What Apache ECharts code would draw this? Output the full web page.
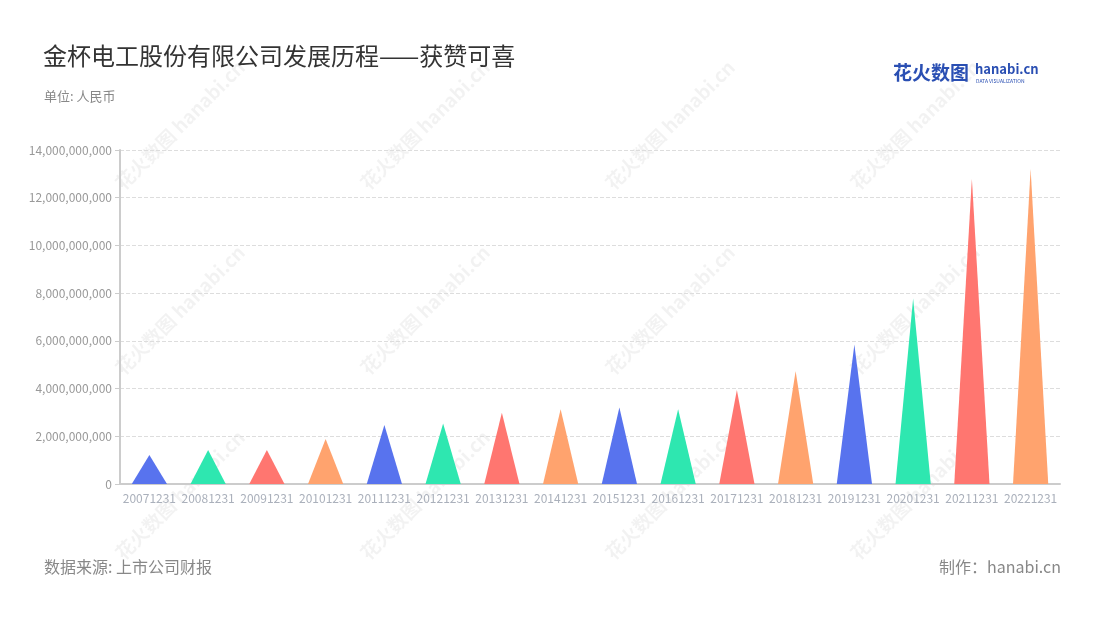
<!DOCTYPE html>
<html><head><meta charset="utf-8">
<script src="https://cdn.jsdelivr.net/npm/echarts@6/dist/echarts.min.js"></script>
<style>html,body{margin:0;padding:0;background:#fff}#c{width:1100px;height:620px}</style>
</head><body><div id="c"></div>
<script>
const categories = ['20071231','20081231','20091231','20101231','20111231','20121231','20131231','20141231','20151231','20161231','20171231','20181231','20191231','20201231','20211231','20221231'];
const values = [1.22e9,1.43e9,1.42e9,1.89e9,2.47e9,2.54e9,2.99e9,3.13e9,3.21e9,3.13e9,3.94e9,4.74e9,5.85e9,7.78e9,12.81e9,13.2e9];
const palette = ['#5873ee','#2ee7b0','#ff7670','#ffa36e'];
const yTicks = {min:0, max:14e9, interval:2e9};

const chart = echarts.init(document.getElementById('c'));
const font = '"Noto Sans CJK SC","Noto Sans",sans-serif';
const wm = [];
[[180,125],[425,125],[670,125],[915,125],[180,310],[425,310],[670,310],[915,310],[180,495],[425,495],[670,495],[915,495]].forEach(p=>{
  wm.push({type:'text', x:p[0], y:p[1], rotation:Math.PI/4, z:-10,
    style:{text:'花火数图 hanabi.cn', fill:'rgba(0,0,0,0.05)', font:'bold 19px '+font, align:'center', verticalAlign:'middle'}});
});
chart.setOption({
  backgroundColor:'#fff',
  title:[
    {text:'金杯电工股份有限公司发展历程——获赞可喜', left:38, top:39, textStyle:{fontSize:24, fontWeight:'normal', color:'#333', fontFamily:font}},
    {text:'单位: 人民币', left:39, top:85, textStyle:{fontSize:13, fontWeight:'normal', color:'#888', fontFamily:font}},
    {text:'数据来源: 上市公司财报', left:39, top:554, textStyle:{fontSize:16, fontWeight:'normal', color:'#888', fontFamily:font}},
    {text:'制作：hanabi.cn', right:34, top:554, textStyle:{fontSize:16, fontWeight:'normal', color:'#888', fontFamily:font}}
  ],
  graphic: wm.concat([
    {type:'text', left:893, top:63, style:{text:'花火数图', fill:'#2a4fb3', font:'bold 19px '+font}},
    {type:'text', left:975, top:63, style:{text:'hanabi.cn', fill:'#2a4fb3', font:'bold 13px '+font}},
    {type:'text', left:976, top:79, style:{text:'DATA VISUALIZATION', fill:'#2a4fb3', font:'5px '+font}}
  ]),
  grid:{left:120, right:40, top:150, bottom:136},
  xAxis:{type:'category', data:categories,
    axisLine:{lineStyle:{color:'#ccc', width:2}},
    axisTick:{alignWithLabel:true, lineStyle:{color:'#ccc'}},
    axisLabel:{color:'#aab0bb', fontSize:12, interval:0, margin:8, fontFamily:font}},
  yAxis:{type:'value', min:yTicks.min, max:yTicks.max, interval:yTicks.interval,
    axisLine:{show:true, lineStyle:{color:'#ccc', width:2}},
    axisTick:{show:true, lineStyle:{color:'#ccc'}},
    splitLine:{lineStyle:{type:'dashed', color:'#ddd'}},
    axisLabel:{color:'#999', fontSize:12, fontFamily:font,
      formatter:v=>v.toLocaleString('en-US')}},
  series:[{type:'pictorialBar', barCategoryGap:'40%',
    symbol:'path://M0,10 L10,10 L5,0 L0,10 z',
    data: values.map((v,i)=>({value:v, itemStyle:{color:palette[i%4]}})),
    itemStyle:{opacity:1}
  }]
});
</script></body></html>
